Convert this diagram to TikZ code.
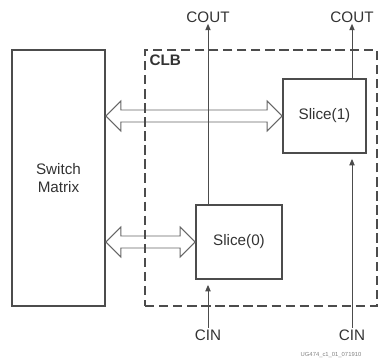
\documentclass[tikz,border=0pt]{standalone}
\usepackage{fontspec}
\setmainfont{Liberation Sans}
\usetikzlibrary{arrows.meta}

% wide two-headed bus arrow between two points
\newcommand{\busarrow}[2]{%
  \draw [bus] (#1) -- ([shift={(0.45,0.45)}]#1) -- ([shift={(0.45,0.18)}]#1)
    -- ([shift={(-0.45,0.18)}]#2) -- ([shift={(-0.45,0.45)}]#2) -- (#2)
    -- ([shift={(-0.45,-0.45)}]#2) -- ([shift={(-0.45,-0.18)}]#2)
    -- ([shift={(0.45,-0.18)}]#1) -- ([shift={(0.45,-0.45)}]#1) -- cycle;}

\begin{document}
\begin{tikzpicture}
    % Styles
    \tikzstyle{box} = [rectangle, draw=black!70, line width=1.5pt, fill=white,
        inner sep=0pt, text=black!80, font=\fontsize{13}{15}\selectfont]
    \tikzstyle{lbl} = [inner sep=1pt, text=black!80, font=\fontsize{13}{15}\selectfont]
    \tikzstyle{arrow} = [black!70, line width=0.8pt, -{Triangle[length=5.5pt,width=4.5pt]}]
    \tikzstyle{bus} = [draw=black!60, line width=0.8pt, fill=white, line join=miter]
    \useasboundingbox (0,0) rectangle (11.37,10.83);

    % Nodes
    \node [box, minimum width=2.79cm, minimum height=7.68cm, align=center] (sm) at (1.755,5.49) {Switch\\Matrix};
    \node [box, minimum width=2.49cm, minimum height=2.22cm] (s1) at (9.735,7.35) {Slice(1)};
    \node [box, minimum width=2.58cm, minimum height=2.22cm] (s0) at (7.17,3.57) {Slice(0)};
    \node [lbl] (cout0) at (6.24,10.32) {COUT};
    \node [lbl] (cout1) at (10.56,10.32) {COUT};
    \node [lbl] (cin0) at (6.24,0.78) {CIN};
    \node [lbl] (cin1) at (10.56,0.78) {CIN};
    \node [inner sep=0pt, text=black!50, font=\fontsize{5}{6}\selectfont] (id) at (9.93,0.18) {UG474\_c1\_01\_071910};

    % Buses
    \coordinate (bus1) at (sm.east |- s1.west);
    \coordinate (bus0) at (sm.east |- s0.west);
    \busarrow{bus1}{s1.west}
    \busarrow{bus0}{s0.west}

    % CLB
    \node [rectangle, draw=black!70, line width=1.5pt, dash pattern=on 8pt off 4pt,
        minimum width=6.96cm, minimum height=7.68cm, inner sep=0pt] (clb) at (7.83,5.49) {};
    \node [lbl, anchor=north west, font=\fontsize{13}{15}\selectfont\bfseries] (clbname) at ([shift={(0.12,-0.12)}]clb.north west) {CLB};

    % Arrows
    \draw [arrow] (cout0.south |- s0.north) -- (cout0.south);
    \draw [arrow] (cout1.south |- s1.north) -- (cout1.south);
    \draw [arrow, shorten >=0.15cm] (cin0.north) -- (cin0.north |- s0.south);
    \draw [arrow, shorten >=0.15cm] (cin1.north) -- (cin1.north |- s1.south);
\end{tikzpicture}
\end{document}
